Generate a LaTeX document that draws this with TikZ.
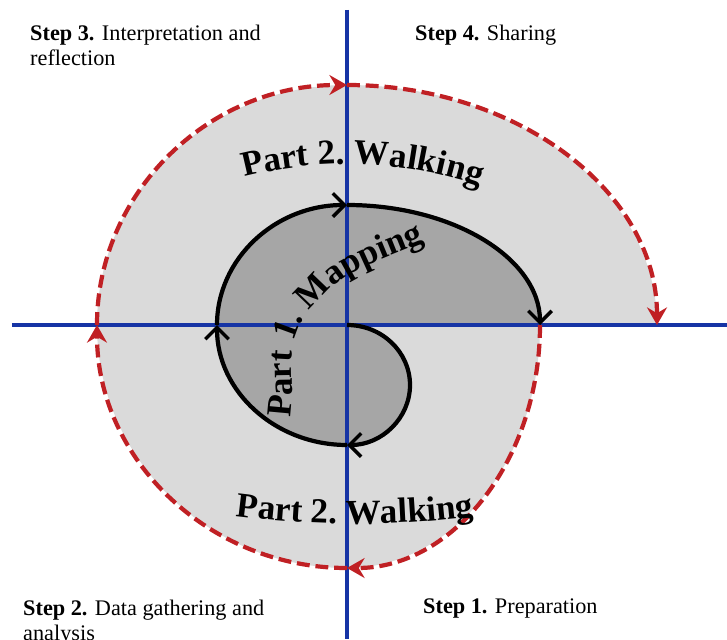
\documentclass[tikz,border=0pt]{standalone}
\usepackage{fontspec}
\setmainfont{Liberation Serif}
\usetikzlibrary{arrows.meta,decorations.text}

\definecolor{axisblue}{RGB}{22,52,165}
\definecolor{walkred}{RGB}{192,32,36}
\definecolor{walkfill}{RGB}{218,218,218}
\definecolor{mapfill}{RGB}{166,166,166}

\newcommand{\stepfont}{\fontsize{19}{21.5}\selectfont}
\newcommand{\partfont}{\bfseries\fontsize{30}{30}\selectfont}

\begin{document}
\begin{tikzpicture}[
  x=0.03cm, y=0.03cm,
  axis/.style={axisblue, line width=2.7pt},
  mapline/.style={line width=3.6pt, -{Straight Barb[length=10pt, width=20pt, line width=3pt]}},
  walkline/.style={walkred, line width=3.6pt, dash pattern=on 11pt off 5pt, -{Stealth[length=15pt, width=17pt, inset=5pt]}},
  steplabel/.style={inner sep=0pt, align=left, font=\stepfont},
  parttext/.style={decorate, decoration={text along path, text format delimiters={|}{|}, text={|\partfont|#1}}}
]
\useasboundingbox[fill=white] (-347,-314) rectangle (380,325);

\coordinate (o) at (0,0);
\coordinate (m1) at (0,-120);
\coordinate (m2) at (-130,0);
\coordinate (m3) at (0,120);
\coordinate (m4) at (193,0);
\coordinate (w1) at (0,-243);
\coordinate (w2) at (-250,0);
\coordinate (w3) at (0,240);
\coordinate (w4) at (310,0);
\coordinate (vtop) at (0,315);
\coordinate (vbot) at (0,-314);
\coordinate (hleft) at (-335,0);
\coordinate (hright) at (380,0);

\fill[walkfill] (m4) arc[start angle=0, end angle=-90, x radius=193, y radius=243]
  arc[start angle=-90, end angle=-180, x radius=250, y radius=243]
  arc[start angle=180, end angle=90, x radius=250, y radius=240]
  arc[start angle=90, end angle=0, x radius=310, y radius=240] -- cycle;
\fill[mapfill] (o) arc[start angle=90, end angle=-90, x radius=63, y radius=60]
  arc[start angle=-90, end angle=-180, x radius=130, y radius=120]
  arc[start angle=180, end angle=90, x radius=130, y radius=120]
  arc[start angle=90, end angle=0, x radius=193, y radius=120] -- cycle;

\draw[axis] (vtop) -- (vbot);
\draw[axis] (hleft) -- (hright);

\draw[mapline] (o) arc[start angle=90, end angle=-90, x radius=63, y radius=60];
\draw[mapline] (m1) arc[start angle=-90, end angle=-180, x radius=130, y radius=120];
\draw[mapline] (m2) arc[start angle=180, end angle=90, x radius=130, y radius=120];
\draw[mapline] (m3) arc[start angle=90, end angle=0, x radius=193, y radius=120];

\draw[walkline] (m4) arc[start angle=0, end angle=-90, x radius=193, y radius=243];
\draw[walkline] (w1) arc[start angle=-90, end angle=-180, x radius=250, y radius=243];
\draw[walkline] (w2) arc[start angle=180, end angle=90, x radius=250, y radius=240];
\draw[walkline] (w3) arc[start angle=90, end angle=0, x radius=310, y radius=240];

\path[parttext={Part 2. Walking}, decoration={text align=center}]
  (0,-250) ++(111:411) arc[start angle=111, end angle=64.6, radius=411];
\path[parttext={Part 2. Walking}, decoration={text align=center}]
  (8,733) ++(261:932) arc[start angle=261, end angle=279, radius=932];
\path[parttext={Part 1. Mapping}]
  (-57,-92) to[out=80, in=235] (-42,8) to[out=55, in=205] (92,90);

\node[steplabel, anchor=north west] (s3) at (-317,300) {\textbf{Step 3.} Interpretation and\\reflection};
\node[steplabel, anchor=base west] (s4) at (68,284) {\textbf{Step 4.} Sharing};
\node[steplabel, anchor=north west] (s2) at (-324,-275) {\textbf{Step 2.} Data gathering and\\analysis};
\node[steplabel, anchor=base west] (s1) at (76,-288) {\textbf{Step 1.} Preparation};
\end{tikzpicture}
\end{document}
